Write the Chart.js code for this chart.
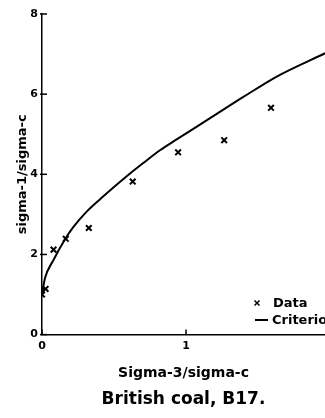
<!DOCTYPE html>
<html>
<head>
<meta charset="utf-8">
<script src="https://cdn.jsdelivr.net/npm/chart.js@4.4.1/dist/chart.umd.min.js"></script>
<style>
html, body { margin: 0; padding: 0; background: #fff; }
#wrap { width: 325px; height: 418px; position: relative; }
</style>
</head>
<body>
<div id="wrap"><canvas id="myChart"></canvas></div>
<script>
// measured points (sigma-3/sigma-c, sigma-1/sigma-c)
const dataSigma3 = [0, 0.025, 0.08, 0.165, 0.325, 0.63, 0.945, 1.265, 1.59];
const dataSigma1 = [1.0, 1.14, 2.12, 2.39, 2.66, 3.82, 4.55, 4.85, 5.66];

// criterion curve
const critSigma3 = [0, 0.021, 0.078, 0.16, 0.217, 0.31, 0.426, 0.588, 0.703, 0.819, 0.935, 1.167, 1.398, 1.63, 1.965];
const critSigma1 = [1.0, 1.41, 1.85, 2.38, 2.68, 3.07, 3.45, 3.95, 4.28, 4.6, 4.87, 5.4, 5.93, 6.44, 7.02];

const xTickValues = [0, 1];
const yTickValues = [0, 2, 4, 6, 8];

const FONT = "'DejaVu Sans', sans-serif";
Chart.defaults.color = '#000';
Chart.defaults.font.family = FONT;

// small tick marks across the axes
const axisTicks = {
    id: 'axisTicks',
    afterDraw(chart) {
        const ctx = chart.ctx;
        const xs = chart.scales.x, ys = chart.scales.y;
        ctx.save();
        ctx.strokeStyle = '#000';
        ctx.lineWidth = 1.5;
        ys.ticks.forEach(t => {
            const py = ys.getPixelForValue(t.value);
            ctx.beginPath();
            ctx.moveTo(xs.left - 2, py);
            ctx.lineTo(xs.left + 5, py);
            ctx.stroke();
        });
        xs.ticks.forEach(t => {
            const px = xs.getPixelForValue(t.value);
            ctx.beginPath();
            ctx.moveTo(px, ys.bottom);
            ctx.lineTo(px, ys.bottom - 5);
            ctx.stroke();
        });
        ctx.restore();
    }
};

// legend drawn inside the plot, lower right
const insideLegend = {
    id: 'insideLegend',
    afterDraw(chart) {
        const ctx = chart.ctx;
        const sets = chart.data.datasets;
        ctx.save();
        ctx.fillStyle = '#000';
        ctx.strokeStyle = '#000';
        ctx.font = "bold 13px " + FONT;
        ctx.textBaseline = 'middle';
        ctx.textAlign = 'left';
        // Data
        ctx.lineWidth = 1.5;
        ctx.beginPath();
        ctx.moveTo(254.5, 300.5); ctx.lineTo(259.5, 305.5);
        ctx.moveTo(259.5, 300.5); ctx.lineTo(254.5, 305.5);
        ctx.stroke();
        ctx.fillText(sets[0].label, 273, 304);
        // Criterion
        ctx.lineWidth = 2;
        ctx.beginPath();
        ctx.moveTo(255, 320); ctx.lineTo(268, 320);
        ctx.stroke();
        ctx.fillText(sets[1].label, 272, 321);
        ctx.restore();
    }
};

const ctx = document.getElementById('myChart');
new Chart(ctx, {
    type: 'scatter',
    data: {
        datasets: [{
            label: 'Data',
            data: dataSigma3.map((x, i) => ({x: x, y: dataSigma1[i]})),
            pointStyle: 'crossRot',
            pointRadius: 4,
            borderColor: '#000',
            backgroundColor: '#000',
            borderWidth: 2,
            showLine: false
        }, {
            label: 'Criterion',
            data: critSigma3.map((x, i) => ({x: x, y: critSigma1[i]})),
            showLine: true,
            pointRadius: 0,
            borderColor: '#000',
            borderWidth: 2,
            cubicInterpolationMode: 'monotone'
        }]
    },
    options: {
        responsive: true,
        maintainAspectRatio: false,
        animation: false,
        layout: { autoPadding: false, padding: { top: 14, right: 0, left: 0, bottom: 0 } },
        plugins: {
            legend: { display: false },
            tooltip: { enabled: false },
            title: {
                display: true,
                position: 'bottom',
                fullSize: false,
                text: 'British coal, B17.',
                font: { size: 17, weight: 'bold', family: FONT },
                padding: { top: 0, bottom: 8 }
            }
        },
        scales: {
            x: {
                type: 'linear',
                min: 0,
                max: 1.965,
                afterFit(scale) { scale.height = 55; },
                afterBuildTicks(scale) { scale.ticks = xTickValues.map(v => ({value: v})); },
                grid: { display: false, drawTicks: false },
                border: { display: true, color: '#000', width: 1.5 },
                ticks: {
                    padding: 5,
                    font: { size: 11, weight: 'bold', family: FONT },
                    callback: v => String(v)
                },
                title: {
                    display: true,
                    text: 'Sigma-3/sigma-c',
                    font: { size: 14, weight: 'bold', family: FONT },
                    padding: { top: 6, bottom: 8 }
                }
            },
            y: {
                type: 'linear',
                min: 0,
                max: 8,
                afterFit(scale) { scale.width = 42; },
                afterBuildTicks(scale) { scale.ticks = yTickValues.map(v => ({value: v})); },
                grid: { display: false, drawTicks: false },
                border: { display: true, color: '#000', width: 1.5 },
                ticks: {
                    padding: 4,
                    font: { size: 11, weight: 'bold', family: FONT },
                    callback: v => String(v)
                },
                title: {
                    display: true,
                    text: 'sigma-1/sigma-c',
                    font: { size: 13, weight: 'bold', family: FONT },
                    padding: { top: 15, bottom: 0 }
                }
            }
        }
    },
    plugins: [axisTicks, insideLegend]
});
</script>
</body>
</html>
